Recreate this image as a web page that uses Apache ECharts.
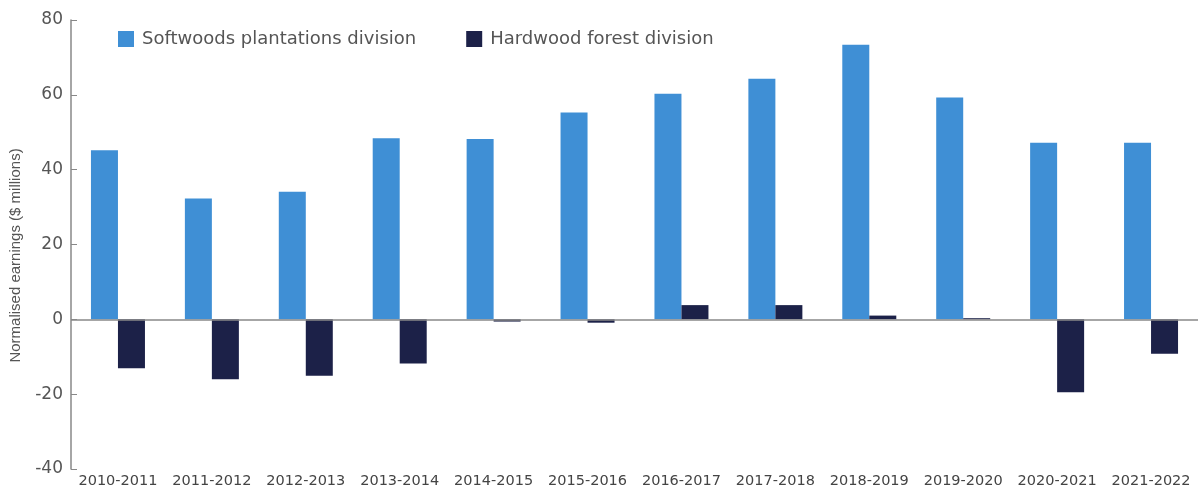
<!DOCTYPE html>
<html>
<head>
<meta charset="utf-8">
<script src="https://cdn.jsdelivr.net/npm/echarts@6/dist/echarts.min.js"></script>
<style>
  html, body { margin: 0; padding: 0; background: #fff; }
  #chart { width: 1202px; height: 492px; }
</style>
</head>
<body>
<div id="chart"></div>
<script>
var years = ['2010-2011','2011-2012','2012-2013','2013-2014','2014-2015','2015-2016',
             '2016-2017','2017-2018','2018-2019','2019-2020','2020-2021','2021-2022'];
var softwoods = [45.2, 32.3, 34.1, 48.4, 48.2, 55.3, 60.3, 64.3, 73.4, 59.3, 47.2, 47.2];
var hardwood = [-13.1, -16.0, -15.1, -11.8, -0.6, -0.9, 3.8, 3.8, 1.0, 0.3, -19.5, -9.2];
var yTicks = [-40, -20, 0, 20, 40, 60, 80];

var font = 'DejaVu Sans';
var myChart = echarts.init(document.getElementById('chart'));
myChart.setOption({
    animation: false,
    textStyle: { fontFamily: font },
    legend: {
        left: 113,
        top: 25,
        itemWidth: 16,
        itemHeight: 16,
        itemGap: 50,
        icon: 'rect',
        textStyle: { fontSize: 18, color: '#555', fontFamily: font, padding: [0, 0, 0, 3] },
        data: ['Softwoods plantations division', 'Hardwood forest division']
    },
    grid: { left: 70, right: 4, top: 20, bottom: 23, containLabel: false },
    xAxis: {
        type: 'category',
        data: years,
        axisLine: { show: false },
        axisTick: { show: false },
        axisLabel: { color: '#444', fontSize: 14.5, margin: 5, interval: 0 }
    },
    yAxis: {
        type: 'value',
        min: yTicks[0],
        max: yTicks[yTicks.length - 1],
        interval: 20,
        name: 'Normalised earnings ($ millions)',
        nameLocation: 'middle',
        nameGap: 48,
        nameTextStyle: { color: '#555', fontSize: 15, fontFamily: 'Liberation Sans', padding: [0, 22, 0, 0] },
        axisLine: { show: true, lineStyle: { color: '#888', width: 1.5 } },
        axisTick: { show: true, inside: true, length: 6, lineStyle: { color: '#888' } },
        axisLabel: { color: '#555', fontSize: 17, margin: 8 },
        splitLine: { show: false }
    },
    series: [
        {
            name: 'Softwoods plantations division',
            type: 'bar',
            data: softwoods,
            barWidth: 27,
            barGap: '0%',
            itemStyle: { color: '#3F8FD5' },
            markLine: {
                silent: true,
                symbol: 'none',
                label: { show: false },
                lineStyle: { color: '#888', type: 'solid', width: 1.5 },
                data: [{ yAxis: 0 }]
            }
        },
        {
            name: 'Hardwood forest division',
            type: 'bar',
            data: hardwood,
            barWidth: 27,
            barGap: '0%',
            itemStyle: { color: '#1C2148' }
        }
    ]
});
</script>
</body>
</html>
